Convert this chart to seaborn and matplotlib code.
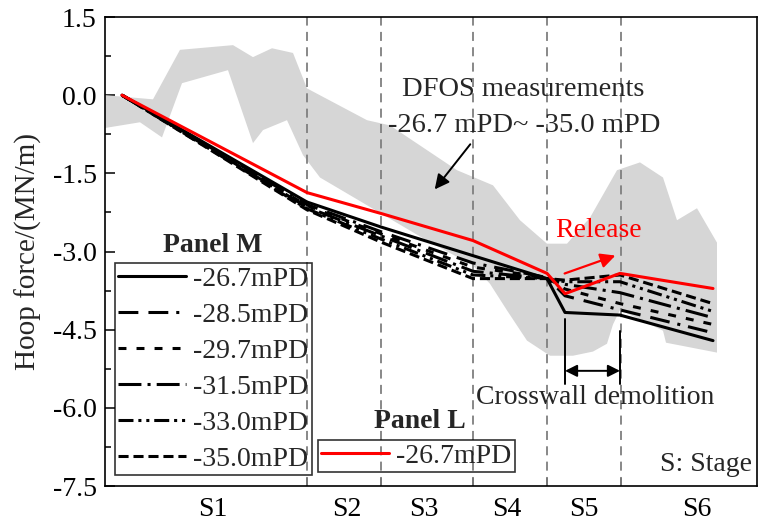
import numpy as np
import pandas as pd
import matplotlib
matplotlib.use("Agg")
import matplotlib.pyplot as plt
import seaborn as sns

# x positions of the computed construction steps (stage axis units)
step_x = [1.7, 20.2, 27.6, 36.8, 44.2, 46.0, 51.5, 60.8]

# Panel M hoop forces (MN/m) at each level
panel_m_levels = ["-26.7mPD", "-28.5mPD", "-29.7mPD", "-31.5mPD", "-33.0mPD", "-35.0mPD"]
m_26_7 = [0.0, -2.05, -2.53, -3.08, -3.52, -4.17, -4.22, -4.71]
m_28_5 = [0.0, -2.10, -2.62, -3.22, -3.50, -3.85, -4.12, -4.56]
m_29_7 = [0.0, -2.12, -2.66, -3.30, -3.50, -3.72, -4.00, -4.40]
m_31_5 = [0.0, -2.15, -2.70, -3.38, -3.52, -3.63, -3.79, -4.27]
m_33_0 = [0.0, -2.18, -2.76, -3.45, -3.52, -3.58, -3.58, -4.15]
m_35_0 = [0.0, -2.20, -2.82, -3.52, -3.52, -3.55, -3.45, -4.00]

# Panel L hoop force (MN/m)
panel_l_level = "-26.7mPD"
l_26_7 = [0.0, -1.87, -2.27, -2.79, -3.42, -3.81, -3.42, -3.71]

# envelope of DFOS measurements between -26.7 mPD and -35.0 mPD
dfos_upper_x = [0.0, 4.8, 7.5, 12.8, 14.8, 16.7, 18.8, 20.2, 26.2, 28.5, 35.2,
                38.8, 41.5, 44.2, 46.2, 48.5, 51.2, 53.5, 55.8, 57.2, 59.2, 61.2]
dfos_upper_y = [0.0, -0.08, 0.87, 0.96, 0.73, 0.90, 0.81, 0.13, -0.48, -0.58, -1.44,
                -1.73, -2.40, -2.85, -2.85, -2.35, -1.44, -1.29, -1.58, -2.40, -2.17, -2.83]
dfos_lower_x = [0.0, 3.5, 5.7, 7.7, 12.3, 14.8, 15.8, 18.2, 19.8, 21.5, 27.6, 32.2,
                36.8, 38.5, 40.2, 42.2, 44.5, 46.8, 48.8, 50.2, 50.8, 51.5, 55.8, 56.1, 61.2]
dfos_lower_y = [-0.63, -0.52, -0.81, 0.23, 0.48, -0.92, -0.67, -0.48, -1.15, -1.58, -2.27, -2.79,
                -3.27, -3.62, -4.13, -4.71, -5.00, -5.00, -4.92, -4.77, -4.40, -4.12, -4.52, -4.75, -4.94]

# construction stages
stage_bounds = [20.2, 27.6, 36.8, 44.2, 51.6]
stage_label_x = [10.8, 24.2, 31.9, 40.2, 47.9, 59.2]
stage_labels = ["S1", "S2", "S3", "S4", "S5", "S6"]

y_major = [1.5, 0.0, -1.5, -3.0, -4.5, -6.0, -7.5]
y_minor = [0.75, -0.75, -2.25, -3.75, -5.25, -6.75]

dash_map = {
    "-26.7mPD": "",
    "-28.5mPD": (6.5, 3.3, 6.5, 2.6, 1.0, 2.6),
    "-29.7mPD": (2.6, 3.3),
    "-31.5mPD": (7.5, 2.0, 1.0, 2.0),
    "-33.0mPD": (4.9, 1.6, 1.0, 1.6, 1.0, 1.6),
    "-35.0mPD": (3.3, 1.6),
}

sns.set_theme(style="ticks")
plt.rcParams["font.family"] = ["Liberation Serif", "DejaVu Serif"]
plt.rcParams["axes.unicode_minus"] = False
plt.rcParams["axes.edgecolor"] = "black"
plt.rcParams["xtick.color"] = "black"
plt.rcParams["ytick.color"] = "black"

FS = 20
LW = 2.2

fig = plt.figure(figsize=(7.58, 5.27), dpi=100)
ax = fig.add_axes([105 / 758, 41 / 527, 652 / 758, 469 / 527])

# DFOS envelope
poly_x = np.concatenate([dfos_upper_x, dfos_lower_x[::-1]])
poly_y = np.concatenate([dfos_upper_y, dfos_lower_y[::-1]])
ax.fill(poly_x, poly_y, color="#d6d6d6", lw=0, zorder=1)

# stage boundaries
for b in stage_bounds:
    ax.axvline(b, color="#7f7f7f", lw=1.3, ls=(0, (5, 3.5)), zorder=1.5)

# Panel M
m_series = [m_26_7, m_28_5, m_29_7, m_31_5, m_33_0, m_35_0]
df_m = pd.concat(
    [pd.DataFrame({"x": step_x, "force": vals, "level": lvl})
     for lvl, vals in zip(panel_m_levels, m_series)],
    ignore_index=True,
)
n0 = len(ax.get_lines())
sns.lineplot(data=df_m, x="x", y="force", style="level", style_order=panel_m_levels,
             dashes=dash_map, color="black", lw=LW, legend=False, sort=False,
             errorbar=None, ax=ax, zorder=3)
m_lines = ax.get_lines()[n0:]

# Panel L
df_l = pd.DataFrame({"x": step_x, "force": l_26_7})
n1 = len(ax.get_lines())
sns.lineplot(data=df_l, x="x", y="force", color="#ff0000", lw=LW, legend=False,
             sort=False, errorbar=None, ax=ax, zorder=4)
l_lines = ax.get_lines()[n1:]

ax.set_xlim(0, 65.2)
ax.set_ylim(-7.5, 1.5)

ax.set_yticks(y_major)
ax.set_yticklabels([f"{v:.1f}" for v in y_major])
ax.set_yticks(y_minor, minor=True)
ax.set_xticks(stage_bounds)
ax.set_xticklabels([""] * len(stage_bounds))
ax.set_xticks(stage_label_x, minor=True)
ax.set_xticklabels(stage_labels, minor=True)
ax.tick_params(axis="y", which="major", direction="in", length=7, width=1.1,
               labelsize=FS, pad=6)
ax.tick_params(axis="y", which="minor", direction="in", length=4, width=1.1)
ax.tick_params(axis="x", which="major", direction="in", length=6, width=1.1)
ax.tick_params(axis="x", which="minor", length=0, labelsize=FS, pad=8)
for s in ax.spines.values():
    s.set_linewidth(1.2)
    s.set_color("black")

ax.set_xlabel("")
ax.set_ylabel("Hoop force/(MN/m)", fontsize=FS + 1)
ax.yaxis.set_label_coords(-0.096, 0.5)

# legends
leg_kw = dict(fontsize=FS, frameon=True, fancybox=False, handlelength=2.45,
              handletextpad=0.25, borderpad=0.12, labelspacing=0.38,
              borderaxespad=0, loc="upper left")
leg_m = ax.legend(m_lines, panel_m_levels, bbox_to_anchor=(0.0153, 0.4755), **leg_kw)
leg_m.get_frame().set_edgecolor("black")
leg_m.get_frame().set_linewidth(1.2)
leg_m.get_frame().set_facecolor("none")
ax.add_artist(leg_m)
leg_l = ax.legend(l_lines, [panel_l_level], bbox_to_anchor=(0.3267, 0.098), **leg_kw)
leg_l.get_frame().set_edgecolor("black")
leg_l.get_frame().set_linewidth(1.2)
leg_l.get_frame().set_facecolor("none")

ax.text(10.8, -2.88, "Panel M", fontsize=FS, fontweight="bold", ha="center", va="center")
ax.text(31.5, -6.27, "Panel L", fontsize=FS, fontweight="bold", ha="center", va="center")

# annotations
ax.text(41.8, 0.1, "DFOS measurements", fontsize=FS + 0.5, ha="center", va="center")
ax.text(41.9, -0.58, "-26.7 mPD~ -35.0 mPD", fontsize=FS + 0.5, ha="center", va="center")
ax.annotate("", xy=(32.8, -1.85), xytext=(36.7, -0.90),
            arrowprops=dict(arrowstyle="-|>", color="black", lw=1.4, mutation_scale=22))

ax.text(49.4, -2.6, "Release", fontsize=FS, color="#ff0000", ha="center", va="center")
ax.annotate("", xy=(51.3, -3.06), xytext=(45.7, -3.44),
            arrowprops=dict(arrowstyle="-|>", color="#ff0000", lw=1.6, mutation_scale=22))

ax.plot([46.0, 46.0], [-4.29, -5.54], color="black", lw=1.4, zorder=4)
ax.plot([51.5, 51.5], [-4.52, -5.54], color="black", lw=1.4, zorder=4)
ax.annotate("", xy=(51.5, -5.29), xytext=(46.0, -5.29),
            arrowprops=dict(arrowstyle="<|-|>", color="black", lw=1.4, mutation_scale=18,
                            shrinkA=0, shrinkB=0))
ax.text(49.0, -5.81, "Crosswall demolition", fontsize=FS, ha="center", va="center")

ax.text(64.7, -7.08, "S: Stage", fontsize=FS, ha="right", va="center")

fig.savefig("out.png", dpi=100, facecolor="white")
